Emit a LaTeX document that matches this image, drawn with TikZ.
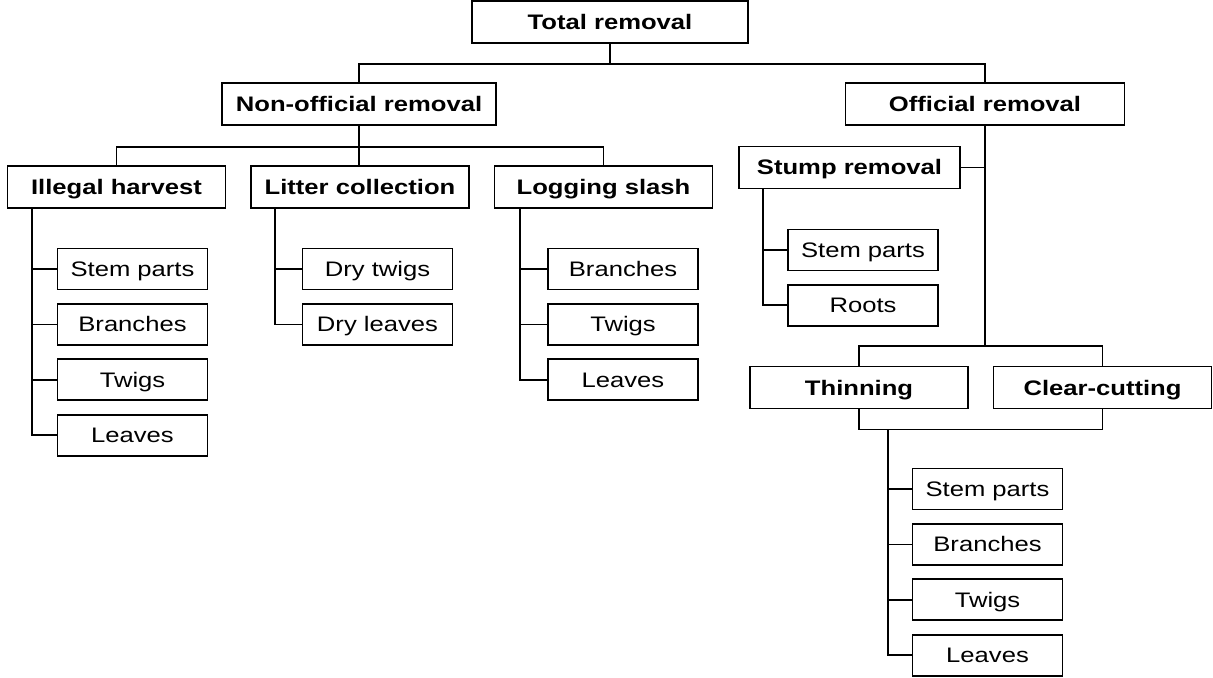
\documentclass[tikz,border=0pt]{standalone}
\usepackage{fontspec}
\setmainfont[FakeStretch=1.22]{Liberation Sans}
\usetikzlibrary{positioning, calc}
\tikzset{
    headbox/.style={rectangle, draw=black, line width=0.9pt, font=\fontsize{10.5}{12}\selectfont\bfseries, minimum width=109pt, minimum height=21pt, inner sep=0pt, text height=7.5pt, text depth=0pt, text centered},
    partbox/.style={rectangle, draw=black, line width=0.9pt, font=\fontsize{10.5}{12}\selectfont, minimum width=75pt, minimum height=20.5pt, inner sep=0pt, text height=7.5pt, text depth=0pt, text centered},
    link/.style={line width=0.9pt},
}
\begin{document}
\begin{tikzpicture}[x=0.5pt, y=-0.5pt]
    \useasboundingbox (0,0) rectangle (1213,678);
    % removal levels
    \node[headbox, minimum width=138pt] (total) at (610,22) {Total removal};
    \node[headbox, minimum width=137pt] (nonoff) at (359,104) {Non-official removal};
    \node[headbox, minimum width=139.5pt] (off) at (985,104) {Official removal};
    \node[headbox] (illegal) at (116.5,187) {Illegal harvest};
    \node[headbox] (litter) at (360,187) {Litter collection};
    \node[headbox] (logging) at (603.5,187) {Logging slash};
    \node[headbox, minimum width=110.5pt] (stump) at (849.5,167.5) {Stump removal};
    \node[headbox] (thin) at (859,387.5) {Thinning};
    \node[headbox] (clear) at (1102.5,387.5) {Clear-cutting};
    % biomass parts
    \node[partbox] (ih1) at (132.5,269) {Stem parts};
    \node[partbox, below=6.3pt of ih1] (ih2) {Branches};
    \node[partbox, below=6.3pt of ih2] (ih3) {Twigs};
    \node[partbox, below=6.3pt of ih3] (ih4) {Leaves};
    \node[partbox] (lc1) at (377.5,269) {Dry twigs};
    \node[partbox, below=6.3pt of lc1] (lc2) {Dry leaves};
    \node[partbox] (ls1) at (623,269) {Branches};
    \node[partbox, below=6.3pt of ls1] (ls2) {Twigs};
    \node[partbox, below=6.3pt of ls2] (ls3) {Leaves};
    \node[partbox] (sr1) at (863,250) {Stem parts};
    \node[partbox, below=6.3pt of sr1] (sr2) {Roots};
    \node[partbox] (th1) at (987.5,489) {Stem parts};
    \node[partbox, below=6.3pt of th1] (th2) {Branches};
    \node[partbox, below=6.3pt of th2] (th3) {Twigs};
    \node[partbox, below=6.3pt of th3] (th4) {Leaves};
    % junctions
    \coordinate (j1) at ($(total.south)+(0,20)$);
    \coordinate (j2) at ($(nonoff.south)+(0,21)$);
    \coordinate (jt) at ($(thin.north)+(0,-20)$);
    \coordinate (jb) at ($(thin.south)+(0,20)$);
    \coordinate (tt) at ($(jb)+(29,0)$);
    % tree connectors
    \draw[link] (total.south) -- (j1);
    \draw[link] (nonoff.north) |- (j1) -| (off.north);
    \draw[link] (nonoff.south) -- (nonoff.south |- litter.north);
    \draw[link] (illegal.north) |- (j2) -| (logging.north);
    \draw[link] (off.south) -- (off.south |- jt);
    \draw[link] (stump.east) -- (stump.east -| off.south);
    \draw[link] (thin.north) -- (jt) -| (clear.north);
    \draw[link] (thin.south) -- (jb) -| (clear.south);
    % part connectors
    \foreach \p in {ih1,ih2,ih3,ih4}
        \draw[link] ([xshift=12.5pt]illegal.south west) |- (\p.west);
    \foreach \p in {lc1,lc2}
        \draw[link] ([xshift=12.5pt]litter.south west) |- (\p.west);
    \foreach \p in {ls1,ls2,ls3}
        \draw[link] ([xshift=13pt]logging.south west) |- (\p.west);
    \foreach \p in {sr1,sr2}
        \draw[link] ([xshift=12.5pt]stump.south west) |- (\p.west);
    \foreach \p in {th1,th2,th3,th4}
        \draw[link] (tt) |- (\p.west);
\end{tikzpicture}
\end{document}
